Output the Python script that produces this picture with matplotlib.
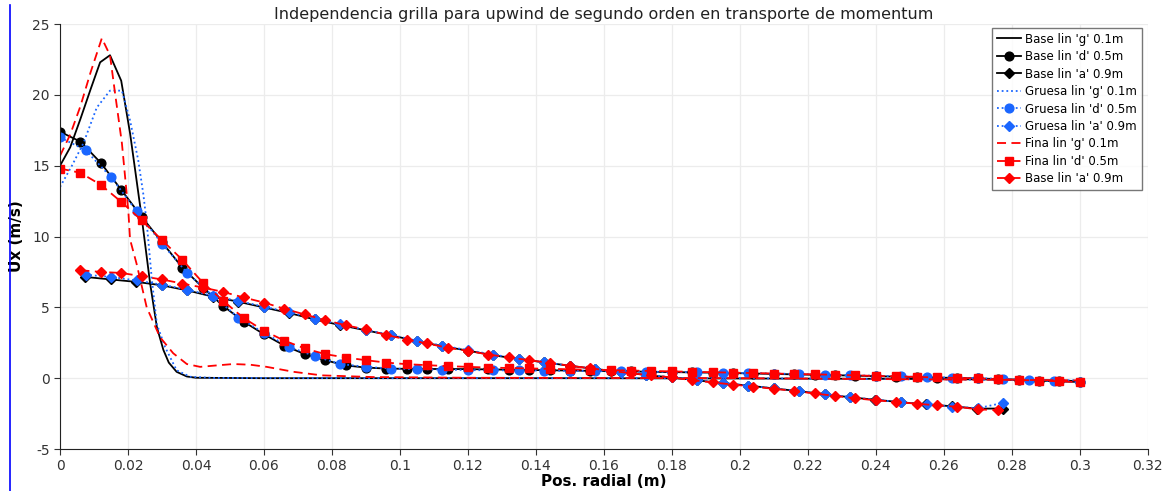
import matplotlib
matplotlib.use("Agg")
import matplotlib.pyplot as plt
import numpy as np
from matplotlib.lines import Line2D

# --- probe line 'g' (0.1 m) -------------------------------------------------
base_g_x = [0, 0.003, 0.006, 0.009, 0.0118, 0.0147, 0.018, 0.0206, 0.024,
            0.0265, 0.0285, 0.0304, 0.032, 0.0343, 0.0373, 0.04, 0.06, 0.1,
            0.15, 0.2, 0.25, 0.28, 0.3]
base_g_y = [15.0, 16.3, 18.3, 20.4, 22.3, 22.8, 21.0, 17.3, 11.4,
            6.7, 3.6, 2.0, 1.1, 0.45, 0.12, 0.03, 0.0, 0.0,
            0.0, -0.02, -0.05, -0.1, -0.2]

gruesa_g_x = [0, 0.0035, 0.0069, 0.0108, 0.0147, 0.0182, 0.0206, 0.023,
              0.0245, 0.0255, 0.027, 0.0285, 0.0309, 0.0343, 0.0383, 0.045,
              0.1, 0.2, 0.3]
gruesa_g_y = [13.5, 15.0, 16.6, 19.1, 20.3, 20.3, 18.2, 15.4,
              13.0, 11.0, 7.0, 3.8, 2.2, 0.56, 0.1, 0.02,
              0.0, 0.0, -0.15]

fina_g_x = [0, 0.003, 0.006, 0.009, 0.0123, 0.0147, 0.0162, 0.0182, 0.0201,
            0.0206, 0.0225, 0.0255, 0.0294, 0.0333, 0.0373, 0.0412, 0.046,
            0.051, 0.056, 0.0608, 0.0687, 0.077, 0.092, 0.12, 0.2, 0.3]
fina_g_y = [15.7, 17.2, 19.2, 21.6, 24.0, 22.8, 20.1, 16.6, 11.8,
            9.8, 8.1, 5.0, 2.9, 1.76, 1.0, 0.8, 0.9,
            1.0, 0.95, 0.8, 0.45, 0.2, 0.08, 0.03, 0.0, -0.15]

# --- probe line 'd' (0.5 m) -------------------------------------------------
base_d_x = np.linspace(0, 0.3, 51)
base_d_y = [17.4, 16.7, 15.2, 13.3, 11.4, 9.6, 7.8, 6.4, 5.1, 4.0,
            3.1, 2.3, 1.7, 1.27, 0.9, 0.75, 0.68, 0.66, 0.65, 0.65,
            0.64, 0.62, 0.6, 0.58, 0.56, 0.54, 0.52, 0.5, 0.48, 0.45,
            0.43, 0.41, 0.39, 0.36, 0.33, 0.30, 0.27, 0.24, 0.21, 0.18,
            0.14, 0.11, 0.08, 0.04, 0.02, -0.02, -0.06, -0.12, -0.17, -0.22,
            -0.27]

gruesa_d_x = np.linspace(0, 0.3, 41)
gruesa_d_y = [17.0, 16.1, 14.2, 11.8, 9.5, 7.4, 5.8, 4.28, 3.2, 2.2,
              1.55, 1.0, 0.8, 0.68, 0.63, 0.61, 0.57, 0.56, 0.55, 0.53,
              0.52, 0.5, 0.48, 0.46, 0.44, 0.42, 0.39, 0.36, 0.33, 0.29,
              0.25, 0.21, 0.17, 0.12, 0.08, 0.04, 0.0, -0.05, -0.12, -0.2,
              -0.3]

fina_d_x = np.linspace(0, 0.3, 51)
fina_d_y = [14.8, 14.5, 13.65, 12.45, 11.15, 9.75, 8.35, 6.75, 5.46, 4.25,
            3.35, 2.65, 2.1, 1.7, 1.46, 1.27, 1.1, 0.99, 0.92, 0.85,
            0.8, 0.75, 0.72, 0.69, 0.66, 0.63, 0.6, 0.57, 0.54, 0.51,
            0.48, 0.45, 0.42, 0.39, 0.36, 0.33, 0.3, 0.27, 0.24, 0.2,
            0.16, 0.13, 0.09, 0.05, 0.02, -0.02, -0.07, -0.12, -0.17, -0.22,
            -0.28]

# --- probe line 'a' (0.9 m) -------------------------------------------------
base_a_x = np.linspace(0.0074, 0.2774, 37)
base_a_y = [7.15, 6.97, 6.8, 6.56, 6.2, 5.76, 5.4, 5.0, 4.6, 4.15,
            3.75, 3.38, 3.02, 2.63, 2.26, 1.95, 1.62, 1.36, 1.12, 0.88,
            0.65, 0.45, 0.22, 0.05, -0.15, -0.35, -0.52, -0.72, -0.92, -1.12,
            -1.35, -1.52, -1.7, -1.85, -1.98, -2.15, -2.14]

gruesa_a_x = np.linspace(0.0075, 0.2775, 37)
gruesa_a_y = [7.3, 7.15, 6.9, 6.6, 6.25, 5.8, 5.45, 5.05, 4.65, 4.2,
              3.8, 3.4, 3.05, 2.65, 2.3, 1.98, 1.66, 1.38, 1.12, 0.88,
              0.65, 0.45, 0.24, 0.06, -0.14, -0.34, -0.52, -0.72, -0.92, -1.12,
              -1.33, -1.52, -1.7, -1.85, -2.0, -2.12, -1.74]

fina_a_x = np.linspace(0.006, 0.276, 46)
fina_a_y = [7.62, 7.5, 7.43, 7.2, 6.97, 6.68, 6.4, 6.09, 5.7, 5.34,
            4.9, 4.5, 4.1, 3.74, 3.44, 3.05, 2.73, 2.45, 2.15, 1.93,
            1.67, 1.47, 1.27, 1.08, 0.88, 0.7, 0.52, 0.35, 0.2, 0.05,
            -0.14, -0.3, -0.45, -0.6, -0.75, -0.9, -1.08, -1.25, -1.42, -1.56,
            -1.68, -1.8, -1.92, -2.02, -2.2, -2.26]

X_TICKS = [0, 0.02, 0.04, 0.06, 0.08, 0.1, 0.12, 0.14, 0.16, 0.18, 0.2,
           0.22, 0.24, 0.26, 0.28, 0.3, 0.32]
Y_TICKS = [-5, 0, 5, 10, 15, 20, 25]

BLACK = "#000000"
BLUE = "#1a66ff"
RED = "#ff0000"

SOLID = "-"
DOTTED = (0, (1, 1.6))
DASHED = (0, (5, 3))

series = [
    (base_g_x, base_g_y, BLACK, SOLID, None, "Base lin 'g' 0.1m"),
    (base_d_x, base_d_y, BLACK, SOLID, "o", "Base lin 'd' 0.5m"),
    (base_a_x, base_a_y, BLACK, SOLID, "D", "Base lin 'a' 0.9m"),
    (gruesa_g_x, gruesa_g_y, BLUE, DOTTED, None, "Gruesa lin 'g' 0.1m"),
    (gruesa_d_x, gruesa_d_y, BLUE, DOTTED, "o", "Gruesa lin 'd' 0.5m"),
    (gruesa_a_x, gruesa_a_y, BLUE, DOTTED, "D", "Gruesa lin 'a' 0.9m"),
    (fina_g_x, fina_g_y, RED, DASHED, None, "Fina lin 'g' 0.1m"),
    (fina_d_x, fina_d_y, RED, DASHED, "s", "Fina lin 'd' 0.5m"),
    (fina_a_x, fina_a_y, RED, DASHED, "D", "Base lin 'a' 0.9m"),
]

plt.rcParams["font.family"] = ["DejaVu Sans"]
plt.rcParams["axes.unicode_minus"] = False

fig = plt.figure(figsize=(11.7, 4.91), dpi=100)
ax = fig.add_axes([0.0513, 0.0855, 0.9297, 0.8655])

for x, y, color, ls, marker, label in series:
    ms = 6.3 if marker in ("o", "s") else 5.0
    ax.plot(x, y, color=color, linestyle=ls, linewidth=1.3,
            marker=marker, markersize=ms, label=label)

ax.set_xlim(0, 0.32)
ax.set_ylim(-5, 25)
ax.set_xticks(X_TICKS)
ax.set_xticklabels([f"{t:g}" for t in X_TICKS])
ax.set_yticks(Y_TICKS)
ax.tick_params(labelsize=10, colors="#333333", length=4, direction="out")
ax.tick_params(axis="x", pad=3)
ax.grid(True, color="#ececec", linewidth=0.9)
ax.set_axisbelow(True)
for side in ("top", "right"):
    ax.spines[side].set_visible(False)
for side in ("left", "bottom"):
    ax.spines[side].set_color("#222222")

ax.set_xlabel("Pos. radial (m)", fontsize=11, fontweight="bold", labelpad=1)
ax.set_ylabel("Ux (m/s)", fontsize=11, fontweight="bold", labelpad=6)
ax.set_title("Independencia grilla para upwind de segundo orden en transporte de momentum",
             fontsize=11.5, color="#222222", pad=4)

leg = ax.legend(loc="upper right", bbox_to_anchor=(1.0, 1.005), fontsize=8.5,
                frameon=True, fancybox=False, edgecolor="#555555",
                handlelength=2.0, labelspacing=0.38, borderpad=0.4,
                handletextpad=0.4)
leg.get_frame().set_linewidth(1.0)

# thin blue frame line at the left edge of the view
fig.add_artist(Line2D([0.0085, 0.0085], [0.0, 0.99], color="#0000ff",
                      linewidth=1.2, transform=fig.transFigure))

fig.savefig("out.png", dpi=100)
